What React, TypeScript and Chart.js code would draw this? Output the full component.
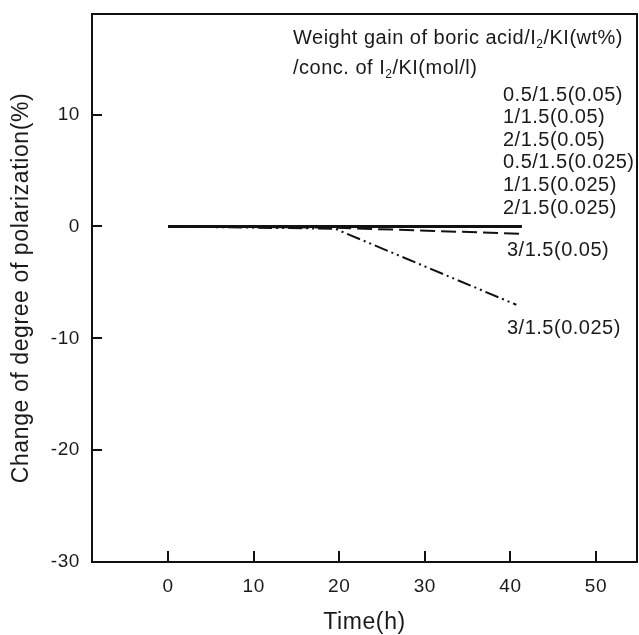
import React, { useEffect, useRef } from "react";
import { Chart, registerables } from "chart.js";

Chart.register(...registerables);

// ---- data ----
const flatTimes = [0, 19, 41.3];
const flatValues = [0, 0, 0];
const times305 = [0, 19, 41.3];
const values305 = [0, -0.1, -0.65];
const times3025 = [0, 19.5, 40.7];
const values3025 = [0, -0.2, -7.0];

const flatLabels = [
  "0.5/1.5(0.05)",
  "1/1.5(0.05)",
  "2/1.5(0.05)",
  "0.5/1.5(0.025)",
  "1/1.5(0.025)",
  "2/1.5(0.025)",
];
const label305 = "3/1.5(0.05)";
const label3025 = "3/1.5(0.025)";

const xTicks = [0, 10, 20, 30, 40, 50];
const yTicks = [-30, -20, -10, 0, 10];
const xMin = -8.9;
const xMax = 54.8;
const yMin = -30;
const yMax = 19;

const xTitle = "Time(h)";
const yTitle = "Change of degree of polarization(%)";
// header lines: [text, isSubscript]
const header1: [string, boolean][] = [
  ["Weight gain of boric acid/I", false],
  ["2", true],
  ["/KI(wt%)", false],
];
const header2: [string, boolean][] = [
  ["/conc. of I", false],
  ["2", true],
  ["/KI(mol/l)", false],
];

const FAMILY = "'Liberation Sans', Arial, Helvetica, sans-serif";
const INK = "#111111";
const TEXT = "#1a1a1a";

function drawRich(ctx: CanvasRenderingContext2D, parts: [string, boolean][], x: number, y: number, size: number) {
  let cx = x;
  for (const [s, sub] of parts) {
    const fs = sub ? Math.round(size * 0.62) : size;
    ctx.font = `${fs}px ${FAMILY}`;
    ctx.fillText(s, cx, sub ? y + size * 0.32 : y);
    cx += ctx.measureText(s).width;
  }
}

const decoPlugin = {
  id: "deco",
  beforeDraw(chart: any) {
    (chart.ctx as any).letterSpacing = "0.6px";
  },
  afterDraw(chart: any) {
    const { ctx, chartArea: a, scales } = chart;
    const x = scales.x;
    const y = scales.y;
    ctx.save();
    ctx.strokeStyle = INK;
    ctx.lineWidth = 2;
    ctx.setLineDash([]);
    ctx.strokeRect(a.left, a.top, a.right - a.left, a.bottom - a.top);
    ctx.beginPath();
    x.ticks.forEach((t: any) => {
      const px = Math.round(x.getPixelForValue(t.value));
      ctx.moveTo(px, a.bottom);
      ctx.lineTo(px, a.bottom - 11);
    });
    y.ticks.forEach((t: any) => {
      const py = Math.round(y.getPixelForValue(t.value));
      ctx.moveTo(a.left, py);
      ctx.lineTo(a.left + 10, py);
    });
    ctx.stroke();

    ctx.fillStyle = TEXT;
    ctx.textBaseline = "middle";
    ctx.textAlign = "left";
    (ctx as any).letterSpacing = "0.5px";
    drawRich(ctx, header1, 293, 38, 20);
    drawRich(ctx, header2, 293, 68, 20);
    ctx.font = `20px ${FAMILY}`;
    flatLabels.forEach((l, i) => {
      ctx.fillText(l, 503, 95 + i * 22.6);
    });
    ctx.fillText(label305, 507, 250);
    ctx.fillText(label3025, 507, 328);
    ctx.restore();
    (chart.ctx as any).letterSpacing = "0px";
  },
};

function toPts(xs: number[], ys: number[]) {
  return xs.map((t, i) => ({ x: t, y: ys[i] }));
}

export default function App() {
  const ref = useRef<HTMLCanvasElement>(null);
  useEffect(() => {
    if (!ref.current) return;
    const base = {
      borderColor: INK,
      borderWidth: 2,
      pointRadius: 0,
      fill: false,
      tension: 0,
    };
    const datasets: any[] = flatLabels.map((l) => ({
      ...base,
      label: l,
      data: toPts(flatTimes, flatValues),
    }));
    datasets.push({ ...base, label: label305, data: toPts(times305, values305), borderDash: [15, 6] });
    datasets.push({
      ...base,
      label: label3025,
      data: toPts(times3025, values3025),
      borderDash: [14, 4, 2, 4, 2, 4],
    });
    const chart = new Chart(ref.current, {
      type: "line",
      data: { datasets },
      options: {
        animation: false,
        responsive: false,
        devicePixelRatio: 1,
        layout: { padding: { top: 14, right: 2, left: 0, bottom: 0 } },
        plugins: { legend: { display: false }, tooltip: { enabled: false } },
        scales: {
          x: {
            type: "linear",
            min: xMin,
            max: xMax,
            grid: { display: false, drawTicks: false },
            border: { display: false },
            afterBuildTicks: (s: any) => {
              s.ticks = xTicks.map((v) => ({ value: v }));
            },
            afterFit: (s: any) => {
              s.height = 73;
              s.paddingLeft = 0;
              s.paddingRight = 0;
            },
            ticks: {
              color: TEXT,
              font: { size: 19, family: FAMILY },
              padding: 13,
              maxRotation: 0,
              autoSkip: false,
            },
            title: {
              display: true,
              text: xTitle,
              color: TEXT,
              font: { size: 23, family: FAMILY, lineHeight: 1 },
              padding: { top: 0, bottom: 1 },
            },
          },
          y: {
            type: "linear",
            min: yMin,
            max: yMax,
            grid: { display: false, drawTicks: false },
            border: { display: false },
            afterBuildTicks: (s: any) => {
              s.ticks = yTicks.map((v) => ({ value: v }));
            },
            afterFit: (s: any) => {
              s.width = 92;
              s.paddingTop = 0;
              s.paddingBottom = 0;
            },
            ticks: {
              color: TEXT,
              font: { size: 19, family: FAMILY },
              padding: 12,
              autoSkip: false,
            },
            title: {
              display: true,
              text: yTitle,
              color: TEXT,
              font: { size: 23, family: FAMILY, lineHeight: 1 },
              padding: { top: 10, bottom: 0 },
            },
          },
        },
      } as any,
      plugins: [decoPlugin as any],
    });
    return () => chart.destroy();
  }, []);
  return (
    <div style={{ position: "absolute", left: 0, top: 0, width: 639, height: 635, background: "#fff" }}>
      <canvas ref={ref} width={639} height={635} style={{ width: 639, height: 635, display: "block" }} />
    </div>
  );
}
